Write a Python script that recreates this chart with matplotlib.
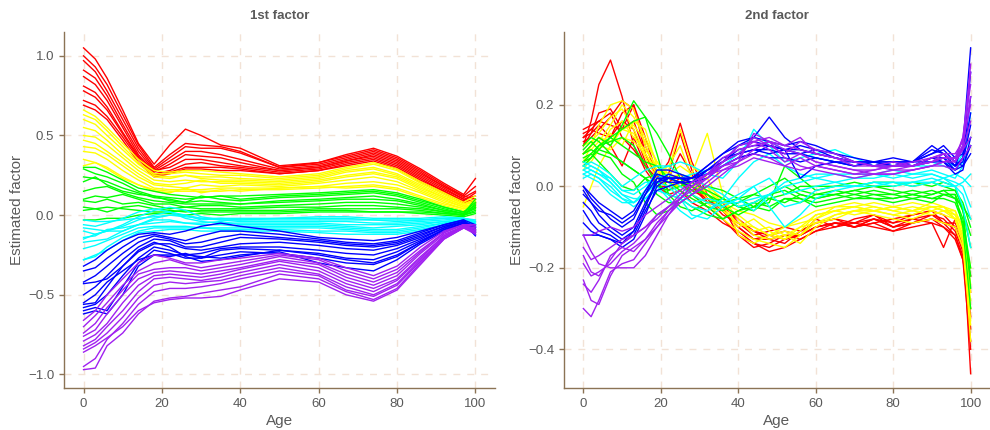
import matplotlib
matplotlib.use("Agg")
import matplotlib.pyplot as plt

plt.rcParams['font.family'] = ['Liberation Sans', 'DejaVu Sans']

ages1 = [0, 3, 6, 10, 14, 18, 22, 26, 30, 35, 40, 50, 60, 67, 74, 80, 86, 92, 97, 100]
ages2 = [0, 2, 4, 7, 10, 13, 16, 19, 22, 25, 28, 32, 36, 40, 44, 48, 52, 56, 60,
         65, 70, 75, 80, 85, 90, 93, 96, 98, 100]

# ---- 1st factor ----
f1_red = [
    [1.05, 0.98, 0.86, 0.66, 0.45, 0.32, 0.44, 0.54, 0.50, 0.44, 0.42, 0.31, 0.33, 0.38, 0.42, 0.37, 0.29, 0.20, 0.13, 0.23],
    [1.00, 0.93, 0.82, 0.63, 0.44, 0.30, 0.38, 0.45, 0.44, 0.43, 0.40, 0.30, 0.33, 0.37, 0.41, 0.36, 0.28, 0.19, 0.12, 0.18],
    [0.97, 0.90, 0.78, 0.60, 0.42, 0.29, 0.36, 0.43, 0.42, 0.42, 0.39, 0.30, 0.32, 0.36, 0.40, 0.35, 0.27, 0.18, 0.11, 0.15],
    [0.91, 0.86, 0.75, 0.57, 0.40, 0.28, 0.34, 0.40, 0.40, 0.38, 0.35, 0.29, 0.31, 0.35, 0.39, 0.34, 0.26, 0.18, 0.12, 0.10],
    [0.87, 0.82, 0.72, 0.55, 0.38, 0.27, 0.32, 0.38, 0.37, 0.36, 0.33, 0.28, 0.30, 0.34, 0.38, 0.33, 0.25, 0.17, 0.10, 0.12],
    [0.81, 0.77, 0.68, 0.52, 0.37, 0.28, 0.30, 0.35, 0.35, 0.33, 0.31, 0.28, 0.30, 0.34, 0.37, 0.32, 0.24, 0.16, 0.10, 0.08],
    [0.78, 0.74, 0.66, 0.51, 0.36, 0.26, 0.28, 0.32, 0.33, 0.31, 0.30, 0.27, 0.29, 0.33, 0.36, 0.31, 0.23, 0.15, 0.09, 0.14],
    [0.72, 0.69, 0.62, 0.49, 0.35, 0.25, 0.27, 0.30, 0.30, 0.30, 0.29, 0.26, 0.28, 0.32, 0.35, 0.30, 0.22, 0.15, 0.08, 0.10],
    [0.69, 0.66, 0.60, 0.47, 0.33, 0.24, 0.26, 0.29, 0.29, 0.28, 0.28, 0.26, 0.28, 0.31, 0.34, 0.29, 0.21, 0.14, 0.08, 0.07],
]
f1_yellow = [
    [0.66, 0.62, 0.55, 0.45, 0.35, 0.28, 0.27, 0.28, 0.28, 0.27, 0.26, 0.24, 0.26, 0.30, 0.33, 0.29, 0.21, 0.14, 0.08, 0.12],
    [0.63, 0.60, 0.53, 0.43, 0.33, 0.26, 0.26, 0.27, 0.26, 0.25, 0.25, 0.23, 0.25, 0.29, 0.32, 0.28, 0.20, 0.13, 0.07, 0.08],
    [0.60, 0.57, 0.50, 0.41, 0.32, 0.25, 0.24, 0.25, 0.24, 0.24, 0.23, 0.22, 0.24, 0.28, 0.30, 0.26, 0.19, 0.12, 0.07, 0.10],
    [0.55, 0.53, 0.47, 0.38, 0.30, 0.24, 0.23, 0.25, 0.23, 0.22, 0.22, 0.21, 0.23, 0.27, 0.29, 0.25, 0.18, 0.11, 0.06, 0.05],
    [0.50, 0.49, 0.44, 0.36, 0.28, 0.22, 0.21, 0.22, 0.21, 0.21, 0.21, 0.20, 0.22, 0.25, 0.27, 0.24, 0.17, 0.11, 0.06, 0.09],
    [0.47, 0.45, 0.40, 0.33, 0.26, 0.20, 0.19, 0.20, 0.22, 0.20, 0.20, 0.19, 0.21, 0.24, 0.26, 0.23, 0.16, 0.10, 0.05, 0.06],
    [0.43, 0.42, 0.38, 0.31, 0.24, 0.19, 0.18, 0.17, 0.19, 0.18, 0.19, 0.18, 0.20, 0.22, 0.24, 0.21, 0.15, 0.09, 0.05, 0.08],
    [0.40, 0.39, 0.35, 0.28, 0.22, 0.17, 0.16, 0.16, 0.16, 0.17, 0.17, 0.17, 0.18, 0.20, 0.21, 0.19, 0.14, 0.08, 0.04, 0.05],
    [0.35, 0.33, 0.30, 0.24, 0.19, 0.16, 0.15, 0.15, 0.15, 0.15, 0.16, 0.16, 0.17, 0.18, 0.19, 0.17, 0.12, 0.07, 0.04, 0.07],
    [0.31, 0.33, 0.29, 0.23, 0.19, 0.15, 0.14, 0.17, 0.14, 0.16, 0.15, 0.17, 0.18, 0.17, 0.18, 0.16, 0.11, 0.06, 0.03, 0.04],
]
f1_green = [
    [0.30, 0.30, 0.27, 0.22, 0.17, 0.15, 0.13, 0.12, 0.11, 0.12, 0.12, 0.13, 0.14, 0.15, 0.16, 0.14, 0.10, 0.05, 0.02, 0.08],
    [0.29, 0.26, 0.24, 0.20, 0.15, 0.12, 0.11, 0.10, 0.11, 0.12, 0.10, 0.12, 0.13, 0.14, 0.15, 0.13, 0.09, 0.05, 0.02, 0.06],
    [0.24, 0.23, 0.21, 0.17, 0.14, 0.11, 0.10, 0.08, 0.12, 0.10, 0.09, 0.11, 0.12, 0.13, 0.14, 0.12, 0.08, 0.04, 0.01, 0.10],
    [0.21, 0.24, 0.19, 0.15, 0.13, 0.12, 0.09, 0.08, 0.09, 0.08, 0.07, 0.09, 0.10, 0.11, 0.12, 0.10, 0.07, 0.03, 0.01, 0.04],
    [0.15, 0.17, 0.18, 0.14, 0.11, 0.09, 0.08, 0.07, 0.07, 0.07, 0.07, 0.08, 0.09, 0.10, 0.10, 0.09, 0.06, 0.03, 0.01, 0.05],
    [0.10, 0.12, 0.11, 0.13, 0.10, 0.07, 0.07, 0.05, 0.06, 0.06, 0.05, 0.06, 0.07, 0.08, 0.08, 0.07, 0.05, 0.02, 0.00, 0.03],
    [0.09, 0.08, 0.10, 0.07, 0.08, 0.06, 0.04, 0.05, 0.04, 0.04, 0.04, 0.05, 0.05, 0.06, 0.06, 0.05, 0.04, 0.02, 0.00, 0.07],
    [0.05, 0.04, 0.02, 0.05, 0.06, 0.04, 0.03, 0.02, 0.03, 0.03, 0.03, 0.03, 0.04, 0.04, 0.04, 0.04, 0.03, 0.01, 0.00, 0.02],
    [0.03, 0.04, 0.05, 0.04, 0.03, 0.02, 0.02, 0.03, 0.02, 0.02, 0.02, 0.02, 0.03, 0.03, 0.02, 0.02, 0.02, 0.01, 0.00, 0.05],
    [-0.03, -0.03, -0.02, -0.02, 0.00, 0.01, 0.01, 0.00, 0.01, 0.00, 0.01, 0.01, 0.02, 0.02, 0.02, 0.02, 0.01, 0.00, -0.01, 0.01],
]
f1_cyan = [
    [-0.03, -0.04, -0.04, -0.03, -0.02, -0.01, 0.00, -0.01, -0.02, -0.02, -0.02, -0.02, -0.01, -0.01, -0.02, -0.02, -0.02, -0.01, -0.02, -0.03],
    [-0.06, -0.07, -0.05, -0.02, 0.02, 0.04, 0.02, 0.00, -0.02, -0.03, -0.03, -0.03, -0.03, -0.03, -0.03, -0.03, -0.03, -0.02, -0.02, -0.04],
    [-0.08, -0.09, -0.10, -0.06, -0.01, 0.03, 0.05, 0.03, -0.01, -0.03, -0.04, -0.04, -0.04, -0.04, -0.05, -0.05, -0.04, -0.03, -0.02, -0.05],
    [-0.10, -0.12, -0.10, -0.07, -0.03, 0.00, 0.02, -0.02, -0.04, -0.05, -0.05, -0.05, -0.05, -0.06, -0.06, -0.06, -0.05, -0.04, -0.03, -0.06],
    [-0.14, -0.13, -0.09, -0.08, -0.06, -0.03, -0.03, -0.05, -0.05, -0.04, -0.06, -0.06, -0.06, -0.07, -0.08, -0.07, -0.06, -0.04, -0.03, -0.07],
    [-0.17, -0.16, -0.15, -0.10, -0.06, -0.05, -0.04, -0.05, -0.06, -0.06, -0.07, -0.07, -0.07, -0.08, -0.09, -0.09, -0.07, -0.05, -0.03, -0.05],
    [-0.21, -0.19, -0.16, -0.12, -0.08, -0.07, -0.07, -0.07, -0.08, -0.08, -0.08, -0.08, -0.08, -0.09, -0.10, -0.10, -0.08, -0.05, -0.03, -0.08],
    [-0.28, -0.26, -0.20, -0.14, -0.10, -0.08, -0.08, -0.08, -0.08, -0.09, -0.09, -0.09, -0.10, -0.10, -0.11, -0.11, -0.09, -0.06, -0.03, -0.06],
    [-0.28, -0.25, -0.22, -0.16, -0.11, -0.10, -0.09, -0.09, -0.10, -0.10, -0.10, -0.10, -0.11, -0.12, -0.12, -0.12, -0.10, -0.06, -0.04, -0.07],
    [-0.15, -0.12, -0.10, -0.10, -0.06, -0.02, 0.00, 0.00, -0.03, -0.02, -0.03, -0.02, -0.02, -0.02, -0.03, -0.04, -0.03, -0.02, -0.02, -0.04],
]
f1_blue = [
    [-0.32, -0.28, -0.22, -0.16, -0.12, -0.11, -0.12, -0.10, -0.07, -0.05, -0.07, -0.10, -0.14, -0.15, -0.16, -0.14, -0.10, -0.06, -0.03, -0.06],
    [-0.35, -0.33, -0.27, -0.20, -0.14, -0.12, -0.14, -0.16, -0.13, -0.10, -0.10, -0.12, -0.15, -0.17, -0.18, -0.16, -0.11, -0.06, -0.03, -0.10],
    [-0.42, -0.38, -0.32, -0.24, -0.17, -0.13, -0.15, -0.18, -0.17, -0.14, -0.12, -0.14, -0.16, -0.18, -0.19, -0.17, -0.12, -0.07, -0.04, -0.08],
    [-0.50, -0.45, -0.38, -0.28, -0.20, -0.15, -0.16, -0.20, -0.20, -0.17, -0.14, -0.15, -0.17, -0.19, -0.20, -0.18, -0.13, -0.07, -0.04, -0.12],
    [-0.56, -0.55, -0.45, -0.32, -0.23, -0.18, -0.18, -0.21, -0.22, -0.20, -0.18, -0.17, -0.19, -0.21, -0.22, -0.19, -0.14, -0.08, -0.04, -0.07],
    [-0.58, -0.56, -0.50, -0.38, -0.27, -0.20, -0.22, -0.25, -0.24, -0.21, -0.20, -0.20, -0.22, -0.24, -0.25, -0.21, -0.15, -0.08, -0.04, -0.09],
    [-0.60, -0.58, -0.60, -0.45, -0.30, -0.22, -0.24, -0.27, -0.27, -0.22, -0.21, -0.22, -0.24, -0.27, -0.28, -0.23, -0.16, -0.09, -0.05, -0.11],
    [-0.62, -0.60, -0.62, -0.50, -0.32, -0.25, -0.26, -0.24, -0.27, -0.25, -0.23, -0.24, -0.27, -0.30, -0.31, -0.26, -0.17, -0.09, -0.05, -0.13],
    [-0.43, -0.42, -0.40, -0.32, -0.22, -0.17, -0.20, -0.26, -0.29, -0.28, -0.26, -0.22, -0.25, -0.28, -0.30, -0.25, -0.17, -0.09, -0.05, -0.10],
    [-0.55, -0.50, -0.42, -0.35, -0.28, -0.25, -0.25, -0.25, -0.26, -0.27, -0.25, -0.23, -0.30, -0.33, -0.35, -0.28, -0.18, -0.10, -0.05, -0.08],
]
f1_purple = [
    [-0.66, -0.60, -0.50, -0.40, -0.30, -0.25, -0.27, -0.30, -0.30, -0.28, -0.27, -0.24, -0.27, -0.33, -0.38, -0.32, -0.20, -0.10, -0.06, -0.07],
    [-0.70, -0.63, -0.55, -0.44, -0.35, -0.30, -0.28, -0.31, -0.33, -0.31, -0.29, -0.25, -0.28, -0.35, -0.40, -0.34, -0.22, -0.11, -0.06, -0.09],
    [-0.74, -0.68, -0.58, -0.47, -0.37, -0.34, -0.33, -0.33, -0.35, -0.33, -0.31, -0.26, -0.30, -0.37, -0.42, -0.36, -0.23, -0.11, -0.06, -0.06],
    [-0.76, -0.72, -0.62, -0.50, -0.40, -0.36, -0.35, -0.36, -0.37, -0.35, -0.33, -0.28, -0.31, -0.39, -0.44, -0.38, -0.24, -0.12, -0.07, -0.10],
    [-0.79, -0.75, -0.68, -0.55, -0.44, -0.38, -0.37, -0.38, -0.39, -0.37, -0.34, -0.29, -0.33, -0.41, -0.46, -0.40, -0.26, -0.13, -0.07, -0.08],
    [-0.82, -0.78, -0.70, -0.60, -0.48, -0.40, -0.39, -0.40, -0.41, -0.39, -0.36, -0.31, -0.35, -0.43, -0.48, -0.41, -0.27, -0.13, -0.07, -0.11],
    [-0.84, -0.80, -0.74, -0.64, -0.52, -0.44, -0.42, -0.43, -0.42, -0.41, -0.38, -0.33, -0.37, -0.45, -0.50, -0.43, -0.28, -0.14, -0.07, -0.09],
    [-0.95, -0.90, -0.78, -0.68, -0.56, -0.48, -0.46, -0.46, -0.45, -0.43, -0.40, -0.35, -0.38, -0.47, -0.51, -0.44, -0.29, -0.14, -0.08, -0.12],
    [-0.97, -0.96, -0.82, -0.74, -0.62, -0.54, -0.52, -0.51, -0.49, -0.47, -0.45, -0.37, -0.40, -0.48, -0.53, -0.46, -0.30, -0.15, -0.08, -0.10],
    [-0.86, -0.82, -0.77, -0.70, -0.60, -0.55, -0.53, -0.52, -0.52, -0.51, -0.47, -0.40, -0.42, -0.50, -0.54, -0.47, -0.31, -0.15, -0.08, -0.11],
]

# ---- 2nd factor ----
f2_red = [
    [0.10, 0.16, 0.25, 0.31, 0.22, 0.10, 0.04, 0.00, -0.02, -0.01, -0.04, -0.06, -0.09, -0.11, -0.14, -0.15, -0.13, -0.12, -0.10, -0.09, -0.10, -0.08, -0.10, -0.09, -0.08, -0.10, -0.12, -0.18, -0.30],
    [0.14, 0.15, 0.16, 0.15, 0.14, 0.20, 0.12, 0.03, 0.02, 0.08, 0.03, -0.04, -0.05, -0.12, -0.15, -0.14, -0.12, -0.13, -0.11, -0.10, -0.08, -0.07, -0.10, -0.08, -0.09, -0.15, -0.08, -0.12, -0.46],
    [0.12, 0.13, 0.18, 0.19, 0.14, 0.16, 0.08, 0.02, 0.06, 0.155, 0.06, -0.02, -0.06, -0.10, -0.13, -0.12, -0.11, -0.12, -0.10, -0.09, -0.10, -0.09, -0.08, -0.07, -0.06, -0.07, -0.10, -0.14, -0.35],
    [0.11, 0.12, 0.14, 0.17, 0.21, 0.19, 0.10, 0.03, -0.01, 0.01, -0.02, -0.05, -0.08, -0.12, -0.14, -0.16, -0.15, -0.13, -0.11, -0.09, -0.09, -0.10, -0.11, -0.10, -0.09, -0.10, -0.13, -0.18, -0.40],
    [0.10, 0.13, 0.15, 0.12, 0.18, 0.20, 0.08, 0.02, 0.03, 0.13, 0.04, -0.03, -0.07, -0.09, -0.11, -0.13, -0.14, -0.11, -0.09, -0.08, -0.10, -0.08, -0.09, -0.07, -0.06, -0.09, -0.10, -0.15, -0.26],
    [0.13, 0.14, 0.13, 0.12, 0.16, 0.14, 0.06, 0.00, 0.00, 0.02, -0.01, -0.03, -0.05, -0.08, -0.11, -0.12, -0.13, -0.12, -0.08, -0.10, -0.09, -0.07, -0.09, -0.08, -0.07, -0.08, -0.11, -0.16, -0.32],
    [0.08, 0.10, 0.12, 0.10, 0.05, 0.12, 0.05, 0.01, 0.01, 0.03, 0.00, -0.04, -0.04, -0.09, -0.12, -0.11, -0.10, -0.11, -0.09, -0.08, -0.09, -0.08, -0.10, -0.09, -0.08, -0.09, -0.09, -0.13, -0.22],
    [0.12, 0.14, 0.16, 0.18, 0.12, 0.09, 0.05, 0.02, 0.02, 0.01, 0.00, -0.03, -0.06, -0.10, -0.13, -0.13, -0.12, -0.12, -0.10, -0.09, -0.10, -0.09, -0.11, -0.09, -0.07, -0.09, -0.12, -0.17, -0.38],
]
f2_yellow = [
    [0.06, 0.10, 0.15, 0.20, 0.21, 0.19, 0.10, 0.04, 0.02, 0.01, 0.02, 0.00, -0.03, -0.08, -0.12, -0.13, -0.12, -0.10, -0.07, -0.06, -0.07, -0.06, -0.07, -0.08, -0.06, -0.07, -0.08, -0.12, -0.30],
    [0.08, 0.09, 0.11, 0.15, 0.20, 0.17, 0.12, 0.06, 0.03, 0.05, 0.03, 0.13, -0.02, -0.12, -0.14, -0.12, -0.11, -0.12, -0.08, -0.06, -0.05, -0.06, -0.05, -0.06, -0.07, -0.06, -0.07, -0.12, -0.38],
    [0.04, 0.07, 0.10, 0.13, 0.10, 0.16, 0.14, 0.05, 0.04, 0.14, 0.05, 0.02, -0.05, -0.10, -0.08, -0.11, -0.13, -0.10, -0.09, -0.07, -0.06, -0.05, -0.06, -0.07, -0.05, -0.06, -0.06, -0.10, -0.26],
    [-0.05, 0.00, 0.05, 0.10, 0.14, 0.13, 0.07, 0.02, 0.00, 0.00, -0.02, -0.04, -0.08, -0.11, -0.13, -0.14, -0.15, -0.12, -0.09, -0.08, -0.06, -0.07, -0.08, -0.09, -0.08, -0.09, -0.10, -0.15, -0.34],
    [0.10, 0.11, 0.13, 0.17, 0.19, 0.14, 0.08, 0.03, 0.05, 0.10, 0.02, -0.02, -0.06, -0.09, -0.10, -0.12, -0.10, -0.09, -0.08, -0.05, -0.04, -0.05, -0.06, -0.05, -0.06, -0.05, -0.07, -0.10, -0.20],
    [0.06, 0.08, 0.10, 0.09, 0.12, 0.11, 0.08, 0.04, 0.01, 0.00, 0.01, -0.03, -0.05, -0.07, -0.10, -0.12, -0.13, -0.11, -0.07, -0.06, -0.05, -0.06, -0.05, -0.04, -0.05, -0.05, -0.08, -0.13, -0.28],
    [0.05, 0.06, 0.09, 0.14, 0.16, 0.12, 0.09, 0.05, 0.03, 0.02, 0.00, -0.01, -0.04, -0.06, -0.07, -0.09, -0.10, -0.08, -0.06, -0.05, -0.05, -0.04, -0.05, -0.06, -0.04, -0.05, -0.06, -0.11, -0.24],
    [0.08, 0.10, 0.12, 0.11, 0.14, 0.15, 0.11, 0.06, 0.02, 0.03, 0.02, 0.00, -0.06, -0.09, -0.11, -0.10, -0.12, -0.14, -0.10, -0.07, -0.06, -0.06, -0.07, -0.06, -0.05, -0.06, -0.08, -0.14, -0.33],
]
f2_green = [
    [0.08, 0.10, 0.12, 0.10, 0.15, 0.21, 0.17, 0.08, -0.02, -0.05, -0.06, -0.04, -0.03, -0.05, -0.04, -0.02, 0.00, -0.02, -0.03, -0.02, -0.01, -0.02, -0.02, -0.01, -0.02, -0.01, -0.03, -0.08, -0.20],
    [0.06, 0.08, 0.10, 0.12, 0.14, 0.16, 0.17, 0.13, 0.08, 0.02, -0.02, -0.05, -0.06, -0.04, -0.02, 0.00, 0.02, -0.01, -0.02, -0.02, -0.01, 0.00, -0.01, -0.02, -0.01, -0.02, -0.02, -0.06, -0.12],
    [0.09, 0.11, 0.09, 0.12, 0.10, 0.08, 0.06, 0.05, 0.02, 0.01, -0.01, -0.02, -0.05, -0.07, -0.05, -0.06, -0.03, -0.03, -0.05, -0.04, -0.03, -0.03, -0.04, -0.03, -0.04, -0.02, -0.02, -0.10, -0.30],
    [0.05, 0.07, 0.09, 0.08, 0.06, 0.04, 0.02, -0.02, -0.04, -0.04, -0.02, 0.00, -0.01, -0.03, -0.02, -0.03, -0.04, -0.02, -0.03, -0.02, -0.03, -0.02, -0.03, -0.02, -0.03, -0.02, -0.03, -0.05, -0.08],
    [0.07, 0.08, 0.06, 0.03, 0.00, -0.01, 0.02, 0.03, 0.01, -0.01, -0.03, -0.05, -0.08, -0.06, -0.05, -0.04, 0.05, 0.02, -0.01, 0.00, 0.01, 0.00, 0.00, 0.01, 0.00, 0.01, 0.00, -0.06, -0.15],
    [0.10, 0.12, 0.11, 0.08, 0.06, 0.04, 0.02, 0.00, -0.01, 0.00, 0.01, -0.01, -0.03, -0.05, -0.06, -0.03, -0.02, 0.00, 0.00, 0.00, 0.00, 0.01, 0.01, 0.00, 0.01, 0.00, -0.01, -0.05, -0.25],
    [0.08, 0.09, 0.08, 0.07, 0.03, 0.01, -0.04, -0.07, -0.06, -0.03, 0.00, -0.02, -0.04, -0.03, -0.05, -0.02, -0.01, -0.03, -0.04, -0.03, -0.02, -0.03, -0.03, -0.02, -0.03, -0.03, -0.04, -0.09, -0.22],
    [0.06, 0.07, 0.10, 0.11, 0.12, 0.10, 0.05, 0.01, -0.02, -0.03, -0.05, -0.07, -0.08, -0.06, -0.04, -0.05, -0.03, -0.04, -0.02, -0.01, -0.02, -0.01, -0.02, -0.03, -0.02, -0.01, -0.01, -0.04, -0.10],
]
f2_cyan = [
    [0.05, 0.06, 0.05, 0.03, 0.00, 0.02, 0.04, 0.05, 0.05, 0.03, 0.02, 0.00, -0.02, -0.05, -0.04, -0.02, 0.00, 0.01, 0.02, 0.03, 0.02, 0.02, 0.03, 0.02, 0.03, 0.02, 0.00, 0.01, 0.03],
    [0.03, 0.04, 0.03, 0.01, -0.02, -0.04, -0.02, 0.02, 0.03, 0.00, -0.02, -0.04, -0.05, -0.03, 0.00, -0.05, -0.10, -0.07, -0.03, -0.01, 0.00, 0.01, 0.00, 0.01, 0.02, 0.01, 0.00, -0.05, -0.15],
    [0.04, 0.03, 0.02, 0.00, -0.03, -0.05, -0.03, 0.00, -0.03, -0.06, -0.08, -0.06, -0.03, 0.02, 0.06, 0.08, 0.05, 0.03, 0.02, 0.01, 0.02, 0.03, 0.02, 0.03, 0.04, 0.03, 0.02, 0.05, 0.18],
    [0.02, 0.03, 0.02, -0.01, -0.03, -0.04, -0.01, 0.04, 0.05, 0.06, 0.05, 0.03, 0.02, 0.06, 0.14, 0.10, 0.06, 0.07, 0.08, 0.09, 0.07, 0.05, 0.06, 0.05, 0.05, 0.06, 0.05, 0.08, 0.12],
    [0.06, 0.05, 0.04, 0.02, -0.01, -0.02, 0.00, 0.03, 0.01, -0.02, -0.04, -0.03, -0.04, -0.02, 0.00, 0.02, -0.02, -0.01, 0.00, 0.01, 0.00, 0.01, 0.01, 0.00, 0.01, 0.02, 0.01, 0.00, -0.05],
    [0.05, 0.04, 0.03, 0.02, -0.01, -0.01, 0.01, 0.01, 0.00, -0.03, -0.07, -0.08, -0.05, -0.03, -0.06, -0.02, 0.01, 0.02, 0.03, 0.03, 0.03, 0.03, 0.04, 0.03, 0.03, 0.02, 0.03, 0.02, 0.00],
    [0.03, 0.02, 0.01, -0.02, -0.04, -0.04, -0.02, 0.01, 0.02, 0.02, 0.03, 0.04, 0.05, 0.08, 0.12, 0.11, 0.09, 0.08, 0.07, 0.06, 0.05, 0.06, 0.05, 0.05, 0.06, 0.05, 0.04, 0.06, 0.10],
    [0.04, 0.05, 0.04, 0.01, -0.02, -0.03, -0.03, -0.01, -0.02, -0.03, -0.05, -0.06, -0.04, -0.04, -0.03, -0.02, -0.05, -0.04, -0.01, 0.00, 0.00, 0.00, 0.01, 0.01, 0.01, 0.00, 0.00, -0.02, -0.08],
]
f2_blue = [
    [0.00, -0.02, -0.04, -0.06, -0.08, -0.06, -0.01, 0.03, 0.02, 0.01, 0.00, 0.03, 0.06, 0.10, 0.12, 0.17, 0.12, 0.09, 0.08, 0.07, 0.06, 0.06, 0.05, 0.06, 0.10, 0.08, 0.05, 0.10, 0.34],
    [0.00, -0.03, -0.05, -0.08, -0.10, -0.08, -0.02, 0.02, 0.02, 0.02, 0.01, 0.04, 0.06, 0.09, 0.10, 0.10, 0.09, 0.02, 0.05, 0.06, 0.05, 0.06, 0.06, 0.05, 0.07, 0.06, 0.04, 0.07, 0.22],
    [-0.01, -0.04, -0.07, -0.10, -0.12, -0.10, -0.04, 0.01, 0.03, 0.02, 0.02, 0.05, 0.08, 0.11, 0.12, 0.11, 0.10, 0.11, 0.10, 0.08, 0.07, 0.06, 0.07, 0.06, 0.08, 0.09, 0.06, 0.05, 0.08],
    [-0.06, -0.09, -0.11, -0.12, -0.14, -0.11, -0.05, 0.02, 0.01, 0.01, 0.02, 0.04, 0.07, 0.08, 0.09, 0.08, 0.09, 0.09, 0.08, 0.07, 0.06, 0.05, 0.06, 0.05, 0.07, 0.07, 0.05, 0.06, 0.15],
    [-0.09, -0.11, -0.12, -0.13, -0.14, -0.12, -0.06, -0.01, 0.00, 0.01, 0.01, 0.04, 0.06, 0.08, 0.09, 0.09, 0.08, 0.08, 0.09, 0.07, 0.06, 0.05, 0.05, 0.06, 0.06, 0.07, 0.04, 0.05, 0.10],
    [-0.12, -0.12, -0.12, -0.13, -0.15, -0.13, -0.07, 0.00, 0.02, 0.02, 0.02, 0.03, 0.05, 0.07, 0.08, 0.10, 0.09, 0.08, 0.07, 0.06, 0.06, 0.05, 0.06, 0.06, 0.08, 0.10, 0.07, 0.08, 0.28],
    [-0.02, -0.04, -0.06, -0.07, -0.09, -0.07, -0.02, 0.04, 0.04, 0.03, 0.02, 0.05, 0.08, 0.10, 0.11, 0.10, 0.09, 0.10, 0.09, 0.08, 0.06, 0.06, 0.06, 0.06, 0.09, 0.08, 0.05, 0.07, 0.18],
    [-0.04, -0.06, -0.09, -0.11, -0.13, -0.11, -0.05, 0.01, 0.02, 0.02, 0.01, 0.02, 0.05, 0.07, 0.08, 0.07, 0.07, 0.06, 0.07, 0.06, 0.05, 0.06, 0.05, 0.05, 0.06, 0.06, 0.03, 0.04, 0.12],
]
f2_purple = [
    [-0.17, -0.21, -0.22, -0.18, -0.14, -0.12, -0.10, -0.08, -0.05, -0.03, -0.01, 0.02, 0.05, 0.07, 0.12, 0.10, 0.08, 0.11, 0.09, 0.08, 0.06, 0.05, 0.05, 0.06, 0.07, 0.08, 0.06, 0.12, 0.28],
    [-0.30, -0.32, -0.28, -0.21, -0.19, -0.18, -0.14, -0.10, -0.06, -0.03, 0.00, 0.03, 0.06, 0.08, 0.11, 0.12, 0.10, 0.09, 0.08, 0.07, 0.05, 0.05, 0.04, 0.05, 0.06, 0.07, 0.07, 0.10, 0.22],
    [-0.23, -0.28, -0.29, -0.22, -0.17, -0.15, -0.13, -0.09, -0.06, -0.04, -0.02, 0.01, 0.04, 0.06, 0.09, 0.11, 0.09, 0.08, 0.06, 0.05, 0.04, 0.04, 0.05, 0.05, 0.06, 0.08, 0.08, 0.11, 0.20],
    [-0.12, -0.16, -0.19, -0.20, -0.20, -0.20, -0.17, -0.12, -0.07, -0.04, -0.02, 0.00, 0.03, 0.06, 0.13, 0.11, 0.07, 0.05, 0.04, 0.03, 0.02, 0.03, 0.03, 0.04, 0.05, 0.06, 0.07, 0.09, 0.12],
    [-0.19, -0.22, -0.21, -0.19, -0.16, -0.14, -0.11, -0.07, -0.05, -0.03, 0.00, 0.02, 0.06, 0.10, 0.11, 0.09, 0.06, 0.08, 0.06, 0.05, 0.04, 0.03, 0.04, 0.04, 0.05, 0.06, 0.06, 0.09, 0.16],
    [-0.12, -0.12, -0.11, -0.10, -0.11, -0.10, -0.07, -0.05, -0.03, -0.01, 0.01, 0.03, 0.05, 0.06, 0.08, 0.07, 0.05, 0.04, 0.05, 0.04, 0.03, 0.03, 0.03, 0.04, 0.05, 0.05, 0.04, 0.07, 0.10],
    [-0.24, -0.26, -0.23, -0.17, -0.15, -0.16, -0.13, -0.10, -0.07, -0.03, 0.00, 0.03, 0.04, 0.05, 0.07, 0.06, 0.05, 0.07, 0.05, 0.04, 0.03, 0.04, 0.05, 0.05, 0.06, 0.07, 0.07, 0.12, 0.25],
    [-0.15, -0.18, -0.17, -0.15, -0.13, -0.12, -0.10, -0.07, -0.05, -0.02, 0.01, 0.03, 0.07, 0.09, 0.10, 0.11, 0.10, 0.12, 0.08, 0.07, 0.06, 0.05, 0.06, 0.05, 0.07, 0.08, 0.06, 0.10, 0.30],
]

group_colors = ['#FF0000', '#FFFF00', '#00FF00', '#00FFFF', '#0000FF', '#A020F0']
spine_col = '#8B7355'
grid_col = '#F2E2D6'
text_col = '#5A5A5A'


def style_axis(ax, title, yticks, ylim):
    ax.set_xlim(-5, 105)
    ax.set_ylim(*ylim)
    ax.set_xticks([0, 20, 40, 60, 80, 100])
    ax.set_yticks(yticks)
    ax.grid(True, linestyle=(0, (5, 5)), color=grid_col, linewidth=1.0)
    ax.set_axisbelow(True)
    for s in ['top', 'right']:
        ax.spines[s].set_visible(False)
    for s in ['left', 'bottom']:
        ax.spines[s].set_color(spine_col)
        ax.spines[s].set_linewidth(1.0)
    ax.tick_params(colors=spine_col, labelcolor=text_col, labelsize=9.5, length=3.5, width=1.0)
    ax.set_xlabel('Age', color=text_col, fontsize=11, labelpad=3)
    ax.set_ylabel('Estimated factor', color=text_col, fontsize=11, labelpad=3)
    ax.set_title(title, color=text_col, fontsize=9.5, fontweight='bold', pad=9)


fig = plt.figure(figsize=(9.9, 4.3), dpi=100)
ax1 = fig.add_axes([0.0646, 0.0977, 0.4354, 0.828])
ax2 = fig.add_axes([0.5697, 0.0977, 0.4303, 0.828])

for col, group in zip(group_colors, [f1_red, f1_yellow, f1_green, f1_cyan, f1_blue, f1_purple]):
    for curve in group:
        ax1.plot(ages1, curve, color=col, lw=1.0, solid_joinstyle='round')

for col, group in zip(group_colors, [f2_red, f2_yellow, f2_green, f2_cyan, f2_blue, f2_purple]):
    for curve in group:
        ax2.plot(ages2, curve, color=col, lw=1.0, solid_joinstyle='round')

style_axis(ax1, '1st factor', [-1.0, -0.5, 0.0, 0.5, 1.0], (-1.085, 1.15))
style_axis(ax2, '2nd factor', [-0.4, -0.2, 0.0, 0.2], (-0.495, 0.379))

fig.savefig('out.png', dpi=100)
